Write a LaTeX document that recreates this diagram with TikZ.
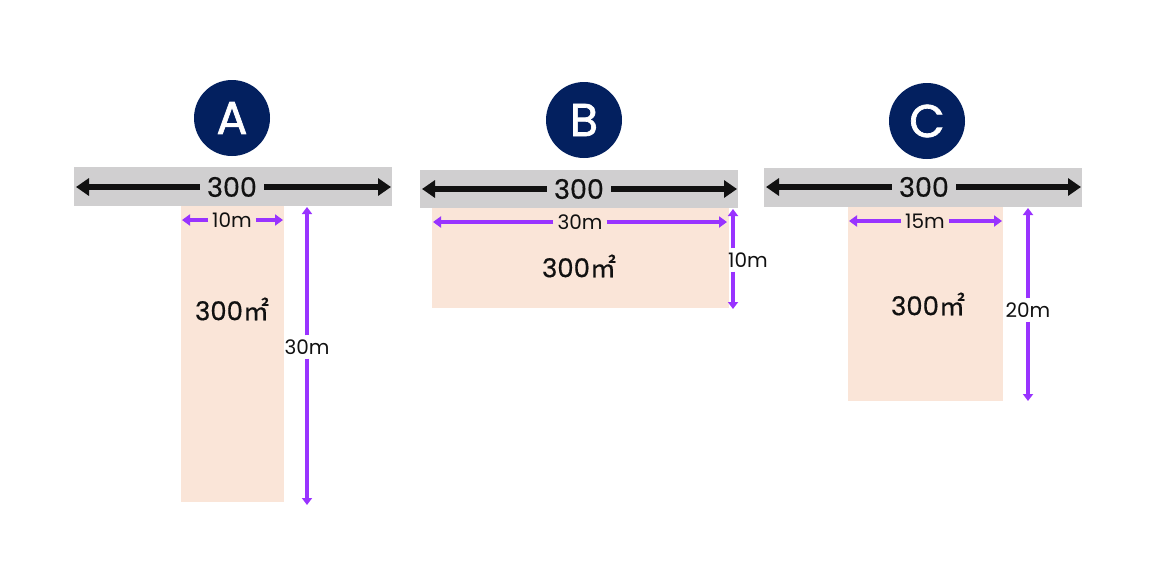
\documentclass[tikz,border=0pt]{standalone}
\usepackage{fontspec}
\setmainfont{Poppins}
\newfontfamily\medfont[FakeBold=0.5]{Poppins}
\newfontfamily\badgefont[FakeBold=1.5]{Poppins}
\newfontfamily\jpmedfont[FakeBold=0.5]{Noto Sans CJK JP}
\usetikzlibrary{arrows.meta}
\definecolor{navy}{HTML}{03205F}
\definecolor{barg}{HTML}{D0CFD0}
\definecolor{pinkf}{HTML}{FAE5D8}
\definecolor{purp}{HTML}{9933FF}
\definecolor{blk}{HTML}{111111}
\tikzset{
  badge/.style={circle,fill=navy,minimum size=76pt,inner sep=0pt,text=white,font=\fontsize{46}{46}\selectfont\badgefont},
  bar/.style={fill=barg,inner sep=0pt},
  plot/.style={fill=pinkf,inner sep=0pt},
  bigtxt/.style={font=\fontsize{27}{27}\selectfont\medfont,inner xsep=7pt,inner ysep=0pt,text=blk},
  areatxt/.style={font=\fontsize{26}{26}\selectfont\medfont,inner sep=0pt,text=blk},
  dimtxt/.style={font=\fontsize{20}{20}\selectfont,inner xsep=4pt,inner ysep=4pt,text=blk},
  blackarrow/.style={draw=blk,line width=6pt,-{Triangle[length=13pt,width=17pt]}},
  purparrow/.style={draw=purp,line width=4pt,-{Triangle[length=8pt,width=11pt]}},
  purpvarrow/.style={draw=purp,line width=3.5pt,-{Triangle[length=7pt,width=10pt]}},
}
\newcommand{\sqm}{{\jpmedfont ㎡}}
\begin{document}
\begin{tikzpicture}[x=1pt,y=-1pt]
\useasboundingbox (0,0) rectangle (1159,579);
% ---------- A ----------
\node[badge] (ca) at (232,118) {A};
\node[bar,minimum width=318pt,minimum height=39pt] (barA) at (233,186.5) {};
\node[bigtxt] (tA) at (232,187) {300};
\coordinate (aL) at (76,187);
\coordinate (aR) at (391,187);
\draw[blackarrow] (tA.west) -- (aL);
\draw[blackarrow] (tA.east) -- (aR);
\node[plot,minimum width=103pt,minimum height=296pt] (pA) at (232.5,354) {};
\node[areatxt] (sA) at (232,309) {300\sqm};
\node[dimtxt,inner ysep=0pt] (wA) at (232,220) {10m};
\coordinate (waL) at (182,220);
\coordinate (waR) at (283,220);
\draw[purparrow] (wA.west) -- (waL);
\draw[purparrow] (wA.east) -- (waR);
\node[dimtxt,inner xsep=0pt] (hA) at (307,347) {30m};
\coordinate (haT) at (307,207);
\coordinate (haB) at (307,505);
\draw[purpvarrow] (hA.north) -- (haT);
\draw[purpvarrow] (hA.south) -- (haB);
% ---------- B ----------
\node[badge] (cb) at (584,120) {B};
\node[bar,minimum width=318pt,minimum height=38pt] (barB) at (579,189) {};
\node[bigtxt] (tB) at (579,189) {300};
\coordinate (bL) at (422,189);
\coordinate (bR) at (737,189);
\draw[blackarrow] (tB.west) -- (bL);
\draw[blackarrow] (tB.east) -- (bR);
\node[plot,minimum width=297pt,minimum height=100pt] (pB) at (580.5,258) {};
\node[areatxt] (sB) at (579,266) {300\sqm};
\node[dimtxt,inner ysep=0pt] (wB) at (580,222) {30m};
\coordinate (wbL) at (433,222);
\coordinate (wbR) at (727,222);
\draw[purparrow] (wB.west) -- (wbL);
\draw[purparrow] (wB.east) -- (wbR);
\node[dimtxt,inner xsep=0pt] (hB) at (748,260) {10m};
\coordinate (hbT) at (733,209);
\coordinate (hbB) at (733,309);
\draw[purpvarrow] (hbT |- hB.north) -- (hbT);
\draw[purpvarrow] (hbB |- hB.south) -- (hbB);
% ---------- C ----------
\node[badge] (cc) at (927,121) {C};
\node[bar,minimum width=318pt,minimum height=39pt] (barC) at (923,187.5) {};
\node[bigtxt] (tC) at (924,187) {300};
\coordinate (cL) at (766,187);
\coordinate (cR) at (1081,187);
\draw[blackarrow] (tC.west) -- (cL);
\draw[blackarrow] (tC.east) -- (cR);
\node[plot,minimum width=155pt,minimum height=194pt] (pC) at (925.5,304) {};
\node[areatxt] (sC) at (928,304) {300\sqm};
\node[dimtxt,inner ysep=0pt] (wC) at (925,221) {15m};
\coordinate (wcL) at (849,221);
\coordinate (wcR) at (1002,221);
\draw[purparrow] (wC.west) -- (wcL);
\draw[purparrow] (wC.east) -- (wcR);
\node[dimtxt,inner xsep=0pt] (hC) at (1028,310) {20m};
\coordinate (hcT) at (1028,208);
\coordinate (hcB) at (1028,401);
\draw[purpvarrow] (hC.north) -- (hcT);
\draw[purpvarrow] (hC.south) -- (hcB);
\end{tikzpicture}
\end{document}
